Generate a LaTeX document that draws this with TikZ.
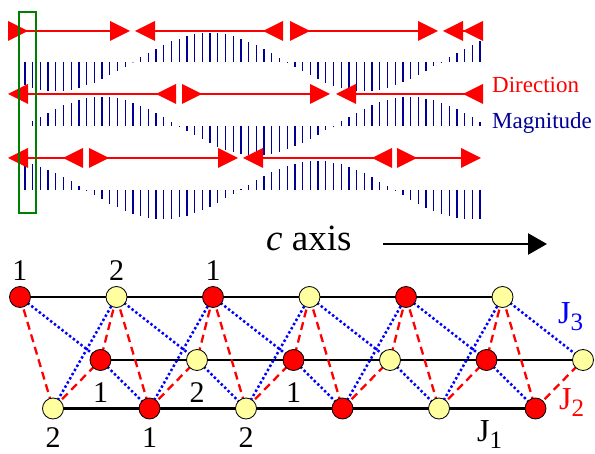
\documentclass[tikz,border=0pt]{standalone}
\usepackage{fontspec}
\setmainfont{Liberation Serif}
\usetikzlibrary{arrows.meta,positioning,backgrounds}
\definecolor{dirred}{RGB}{255,0,0}
\definecolor{magblue}{RGB}{0,0,150}
\definecolor{boxgreen}{RGB}{0,128,0}
\definecolor{siteyellow}{RGB}{255,255,160}
\definecolor{jthree}{RGB}{0,0,255}
\newcommand{\Jc}[1]{J\raisebox{-0.2em}{\fontsize{25}{25}\selectfont #1}}

\tikzset{
	dirline/.style={draw=dirred, line width=2.4pt},
	dirhead/.style={fill=dirred},
	magbar/.style={draw=magblue, line width=1.3pt},
	site/.style={circle, draw=black, line width=0.8pt, minimum size=21pt, inner sep=0pt},
	redsite/.style={site, fill=red},
	yelsite/.style={site, fill=siteyellow},
	chainline/.style={line width=2.4pt},
	jtwo/.style={draw=red, line width=2.3pt, dash pattern=on 8pt off 5pt},
	jthr/.style={draw=jthree, line width=2.5pt, dash pattern=on 2.4pt off 2.4pt},
	num/.style={inner sep=0pt, font=\fontsize{30}{30}\selectfont},
	jlab/.style={anchor=base west, inner sep=0pt, font=\fontsize{32}{32}\selectfont},
}

\begin{document}
\begin{tikzpicture}[x=1pt, y=-1pt]
	\useasboundingbox (0,0) rectangle (595,454);
	\foreach \yb/\zz in {62/133,126/25,190/240}
		\foreach \i in {0,...,59}{
			\pgfmathsetmacro\xx{25+7.712*\i}
			\pgfmathsetmacro\hh{29*sin(1.16883*(\xx-\zz))}
			\draw[magbar] (\xx,\yb) -- (\xx,{\yb-(\hh)});
		}
	\foreach \ya/\xa/\xb in {31/8/130,31/283/135,31/290/438,31/483/443,94/176/8,94/182/330,94/483/336,158/83/8,158/89/238,158/392/243,158/397/481}{
		\pgfmathsetmacro\dd{(\xb>\xa) ? 20 : -20}
		\draw[dirline] ({\xa+(\dd)/2},\ya) -- ({\xb-(\dd)/2},\ya);
		\fill[dirhead] (\xa,\ya-10) -- ({\xa+(\dd)},\ya) -- (\xa,\ya+10) -- cycle;
		\fill[dirhead] ({\xb-(\dd)},\ya-10) -- (\xb,\ya) -- ({\xb-(\dd)},\ya+10) -- cycle;
	}
	\draw[boxgreen, line width=1.3pt] (19,12) rectangle (36,213);
	\node[anchor=base west, inner sep=0pt, text=red, font=\fontsize{23}{23}\selectfont] (dirlab) at (492,93) {Direction};
	\node[anchor=base west, inner sep=0pt, text=magblue, font=\fontsize{23}{23}\selectfont] (maglab) at (492,129) {Magnitude};

	\node[anchor=base west, inner sep=0pt, font=\fontsize{37}{37}\selectfont] (caxis) at (266,251) {\textit{c} axis};
	\coordinate (axs) at (383,244);
	\coordinate (axe) at (547,244);
	\draw[line width=2.5pt, -{Triangle[length=19pt,width=21pt]}] (axs) -- (axe);

	\foreach \i/\up/\dn in {0/redsite/yelsite,1/yelsite/redsite,2/redsite/yelsite,3/yelsite/redsite,4/redsite/yelsite,5/yelsite/redsite}{
		\node[\up] (t\i) at (20+96.5*\i,297) {};
		\node[\up] (m\i) at (100.5+96.5*\i,360) {};
		\node[\dn] (b\i) at (53+96.5*\i,408.5) {};
	}
	\begin{scope}[on background layer]
		\draw[chainline] (t0.center) -- (t5.center);
		\draw[chainline] (m0.center) -- (m5.center);
		\draw[chainline] (b0.center) -- (b5.center);
		\foreach \i in {0,...,5}{
			\draw[jtwo] (t\i.center) -- (b\i.center);
			\draw[jtwo] (b\i.center) -- (m\i.center);
			\draw[jthr] (t\i.center) -- (m\i.center);
		}
		\foreach \i [evaluate=\i as \j using int(\i+1)] in {0,...,4}{
			\draw[jtwo] (t\j.center) -- (m\i.center);
			\draw[jthr] (m\i.center) -- (b\j.center);
			\draw[jthr] (b\i.center) -- (t\j.center);
		}
	\end{scope}

	\node[num, above=5pt of t0] (nt0) {1};
	\node[num, above=5pt of t1] (nt1) {2};
	\node[num, above=5pt of t2] (nt2) {1};
	\node[num, below=12pt of m0] (nm0) {1};
	\node[num, below=12pt of m1] (nm1) {2};
	\node[num, below=12pt of m2] (nm2) {1};
	\node[num, below=8pt of b0] (nb0) {2};
	\node[num, below=8pt of b1] (nb1) {1};
	\node[num, below=8pt of b2] (nb2) {2};

	\node[jlab, text=jthree] (j3) at (558,324) {\Jc{3}};
	\node[jlab, text=red] (j2) at (559,410) {\Jc{2}};
	\node[jlab] (j1) at (477,442) {\Jc{1}};
\end{tikzpicture}
\end{document}
